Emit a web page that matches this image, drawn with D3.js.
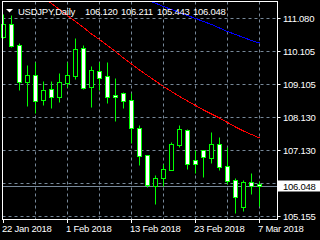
<!DOCTYPE html>
<html><head><meta charset="utf-8">
<script src="https://cdnjs.cloudflare.com/ajax/libs/d3/7.8.5/d3.min.js"></script>
<style>html,body{margin:0;padding:0;background:#000;overflow:hidden}</style>
</head><body><svg id="c" width="320" height="240"></svg>
<script>
const symbolLabel = "USDJPY,Daily";
const categories = ["22 Jan 2018","23 Jan 2018","24 Jan 2018","25 Jan 2018","26 Jan 2018","29 Jan 2018","30 Jan 2018","31 Jan 2018",
  "1 Feb 2018","2 Feb 2018","5 Feb 2018","6 Feb 2018","7 Feb 2018","8 Feb 2018","9 Feb 2018","12 Feb 2018","13 Feb 2018","14 Feb 2018",
  "15 Feb 2018","16 Feb 2018","19 Feb 2018","20 Feb 2018","21 Feb 2018","22 Feb 2018","23 Feb 2018","26 Feb 2018","27 Feb 2018","28 Feb 2018",
  "1 Mar 2018","2 Mar 2018","5 Mar 2018","6 Mar 2018","7 Mar 2018"];
const openV  = [110.511,110.900,110.272,109.174,109.374,108.635,108.955,108.725,109.144,109.353,110.182,109.024,109.494,109.344,108.767,108.827,108.626,107.779,106.980,106.053,106.283,106.532,107.280,107.728,106.831,107.121,106.882,107.301,106.651,106.232,105.433,106.173,106.120];
const highV  = [111.200,111.170,110.323,109.674,109.754,109.204,109.204,109.443,109.754,110.482,110.272,109.644,109.754,109.754,109.276,108.875,108.827,107.878,106.990,106.382,106.711,107.360,107.878,107.758,107.130,107.140,107.660,107.510,107.229,106.283,106.232,106.433,106.211];
const lowV   = [110.482,110.212,108.925,108.447,108.237,108.477,108.396,108.575,109.024,109.246,108.955,108.426,108.925,108.545,108.007,108.396,107.349,106.681,106.014,105.514,106.053,106.520,107.229,106.561,106.433,106.331,106.750,106.532,106.113,105.236,105.313,105.813,105.443];
const closeV = [110.900,110.251,109.174,109.374,108.605,108.925,108.725,109.165,109.374,110.152,108.994,109.515,109.294,108.707,108.707,108.605,107.779,106.959,106.092,106.283,106.552,107.301,107.758,106.711,106.711,106.912,107.301,106.630,106.211,105.715,106.173,106.062,106.048];
const maRed  = [null,null,null,null,null,111.708,111.529,111.349,111.170,110.990,110.811,110.616,110.452,110.272,110.092,109.898,109.718,109.539,109.374,109.210,109.045,108.896,108.746,108.611,108.477,108.342,108.222,108.103,107.968,107.834,107.714,107.609,107.504];
const maBlue = [null,null,null,null,null,null,null,null,null,null,null,null,null,null,null,null,null,null,111.634,111.538,111.439,111.349,111.260,111.170,111.080,110.990,110.900,110.796,110.691,110.601,110.511,110.422,110.347];
const priceTicks = [111.080,110.105,109.105,108.130,107.130,106.155,105.155];
const priceTickLabels = ["111.080","110.105","109.105","108.130","107.130","","105.155"];
const dateTickLabels = ["22 Jan 2018","1 Feb 2018","13 Feb 2018","23 Feb 2018","7 Mar 2018"];
const headerValues = ["106.120","106.211","105.443","106.048"];
const lastPrice = 106.048;

const svg = d3.select("#c");
const W = 320, H = 240;
const L = 2.5, T = 1.5, R = 277.5, B = 219.5;
const x = d3.scaleLinear().domain([0, categories.length - 1]).range([3.5, 259.5]);
const y = d3.scaleLinear().domain([105.155, 111.080]).range([216.5, 18.5]);
const snap = v => Math.floor(v) + 0.5;
const gridCol = "#778899";
const font = "'Liberation Sans', Arial, sans-serif";

svg.append("rect").attr("width", W).attr("height", H).attr("fill", "#000");

svg.append("clipPath").attr("id", "pc").append("rect")
  .attr("x", L).attr("y", T + 0.5).attr("width", R - L).attr("height", B - T);

// grid
const g = svg.append("g").attr("clip-path", "url(#pc)");
priceTicks.forEach(p => {
  g.append("line").attr("x1", L).attr("x2", R).attr("y1", snap(y(p))).attr("y2", snap(y(p)))
    .attr("stroke", gridCol).attr("stroke-dasharray", "3,3");
});
categories.forEach((c, i) => {
  if (i % 4 === 0 && i > 0) {
    g.append("line").attr("x1", x(i)).attr("x2", x(i)).attr("y1", T).attr("y2", B)
      .attr("stroke", gridCol).attr("stroke-dasharray", "3,3");
  }
});
// bid line
g.append("line").attr("x1", L).attr("x2", R).attr("y1", snap(y(lastPrice))).attr("y2", snap(y(lastPrice)))
  .attr("stroke", gridCol);

// moving averages
const mk = arr => d3.line().defined(d => d != null).x((d, i) => x(i)).y(d => y(d))(arr);
g.append("path").attr("d", mk(maRed)).attr("fill", "none").attr("stroke", "#ff0000").attr("shape-rendering", "crispEdges");
g.append("path").attr("d", mk(maBlue)).attr("fill", "none").attr("stroke", "#0000ff").attr("shape-rendering", "crispEdges");

// candles
const cg = svg.append("g");
categories.forEach((c, i) => {
  const cx = x(i);
  cg.append("line").attr("x1", cx).attr("x2", cx).attr("y1", snap(y(highV[i]))).attr("y2", snap(y(lowV[i])))
    .attr("stroke", "#00ff00");
  const top = snap(y(Math.max(openV[i], closeV[i])));
  const bot = snap(y(Math.min(openV[i], closeV[i])));
  cg.append("rect").attr("x", cx - 2).attr("y", top).attr("width", 4).attr("height", Math.max(bot - top, 0))
    .attr("fill", closeV[i] >= openV[i] ? "#000" : "#fff").attr("stroke", "#00ff00");
});

// border
svg.append("rect").attr("x", L).attr("y", T).attr("width", R - L).attr("height", B - T)
  .attr("fill", "none").attr("stroke", "#fff");

// right axis
priceTicks.forEach((p, k) => {
  const yy = snap(y(p));
  svg.append("line").attr("x1", R).attr("x2", R + 3).attr("y1", yy).attr("y2", yy).attr("stroke", "#fff");
  if (priceTickLabels[k]) {
    svg.append("text").attr("x", 283).attr("y", yy + 3.5).text(priceTickLabels[k])
      .attr("fill", "#fff").attr("font-family", font).attr("font-size", "9.5px").attr("letter-spacing", "-0.25px");
  }
});
// last price box
const ly = snap(y(lastPrice));
svg.append("rect").attr("x", 278).attr("y", ly - 6).attr("width", 42).attr("height", 11).attr("fill", "#fff");
svg.append("text").attr("x", 283).attr("y", ly + 3.5).text(lastPrice.toFixed(3))
  .attr("fill", "#000").attr("font-family", font).attr("font-size", "9.5px").attr("letter-spacing", "-0.25px");

// bottom axis
dateTickLabels.forEach(lbl => {
  const i = categories.indexOf(lbl);
  const xx = x(i);
  svg.append("line").attr("x1", xx).attr("x2", xx).attr("y1", B).attr("y2", B + 3.5).attr("stroke", "#fff");
  svg.append("text").attr("x", xx - 1.5).attr("y", 232).text(lbl)
    .attr("fill", "#fff").attr("font-family", font).attr("font-size", "9.5px").attr("letter-spacing", "-0.25px");
});

// header
svg.append("path").attr("d", "M6,9L13,9L9.5,12.5Z").attr("fill", "#fff");
const ht = svg.append("text").attr("y", 14.5).attr("fill", "#fff").attr("font-family", font)
  .attr("font-size", "9.5px").attr("letter-spacing", "-0.25px");
ht.append("tspan").attr("x", 18).text(symbolLabel);
headerValues.forEach((v, k) => ht.append("tspan").attr("x", 85 + 36 * k).text(v));
</script></body></html>
